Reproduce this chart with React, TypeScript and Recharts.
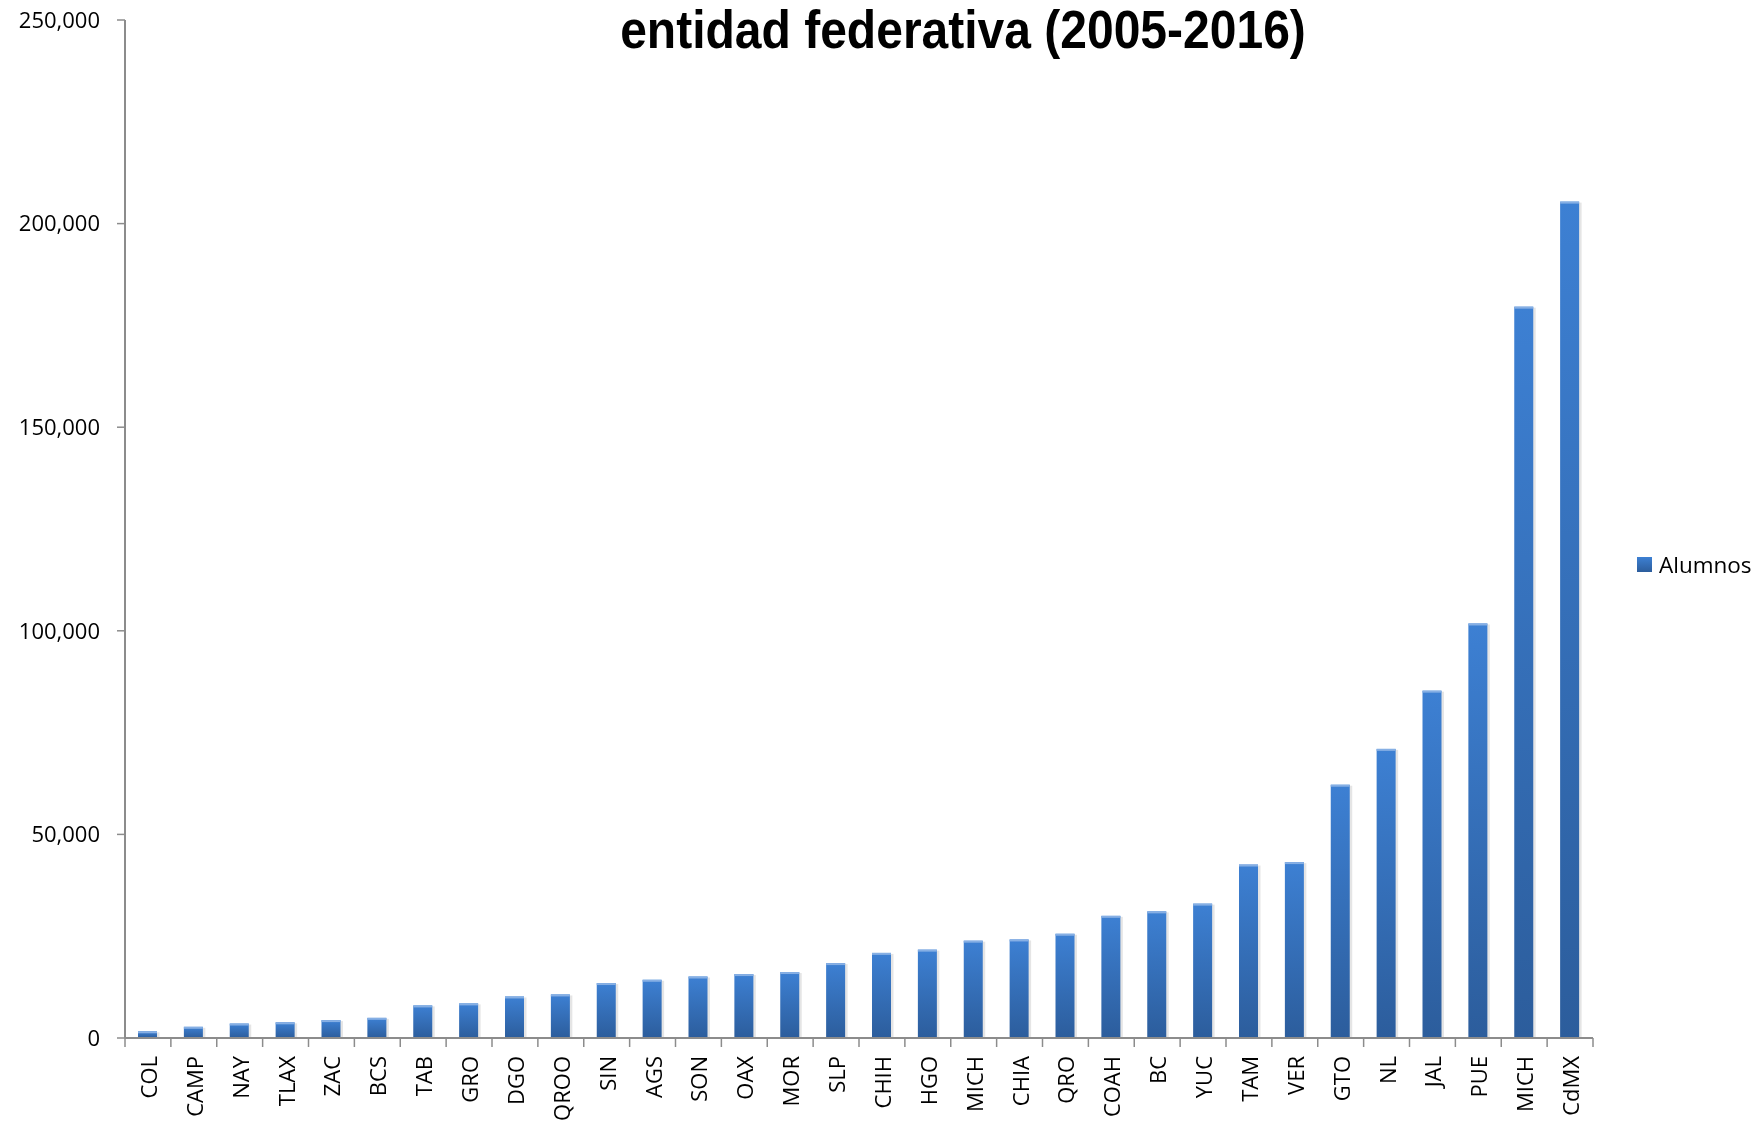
import { BarChart, Bar, XAxis, YAxis } from "recharts";

const categories = [
  "COL", "CAMP", "NAY", "TLAX", "ZAC", "BCS", "TAB", "GRO", "DGO", "QROO",
  "SIN", "AGS", "SON", "OAX", "MOR", "SLP", "CHIH", "HGO", "MICH", "CHIA",
  "QRO", "COAH", "BC", "YUC", "TAM", "VER", "GTO", "NL", "JAL", "PUE",
  "MICH", "CdMX",
];

const alumnos = [
  1650, 2750, 3550, 3850, 4400, 4950, 8000, 8500, 10200, 10700,
  13500, 14300, 15100, 15700, 16200, 18400, 20900, 21700, 23900, 24200,
  25600, 30000, 31100, 33000, 42600, 43200, 62200, 71000, 85300, 101800,
  179600, 205400,
];

const yTicks = [0, 50000, 100000, 150000, 200000, 250000];

const data = categories.map((estado, i) => ({ estado, alumnos: alumnos[i] }));

const W = 1756;
const H = 1123;
const PLOT_LEFT = 125;
const PLOT_RIGHT = 1593;
const BAND = (PLOT_RIGHT - PLOT_LEFT) / categories.length;
const FONT = '"Open Sans", "Noto Sans", sans-serif';
const AXIS_GRAY = "#8c8c8c";

const fmt = (v: number) => v.toLocaleString("en-US");

const BarShape = (props: any) => {
  const { x, y, width, height } = props;
  if (!height || height <= 0) return null;
  return (
    <g>
      <rect x={x + 1.5} y={y + 1} width={width + 1} height={height - 1} fill="rgba(0,0,0,0.10)" />
      <rect x={x} y={y} width={width} height={height} fill="url(#barGrad)" />
      <rect x={x} y={y} width={width} height={Math.min(2, height)} fill="#86afe4" />
    </g>
  );
};

const XTick = (props: any) => {
  const { x, y, payload, index } = props;
  const left = x - BAND / 2;
  const right = x + BAND / 2;
  return (
    <g>
      <line x1={left} y1={y} x2={left} y2={y + 9} stroke={AXIS_GRAY} strokeWidth={1.5} />
      {index === categories.length - 1 && (
        <line x1={right} y1={y} x2={right} y2={y + 9} stroke={AXIS_GRAY} strokeWidth={1.5} />
      )}
      <text
        x={x}
        y={y + 18}
        transform={`rotate(-90, ${x}, ${y + 18})`}
        textAnchor="end"
        dominantBaseline="central"
        fontFamily={FONT}
        fontSize={22}
        fill="#000"
      >
        {payload.value}
      </text>
    </g>
  );
};

export default function App() {
  return (
    <div style={{ position: "fixed", left: 0, top: 0, width: W, height: H, background: "#fff" }}>
      <div
        style={{
          position: "absolute",
          left: 0,
          width: 1926,
          top: 2,
          textAlign: "center",
          fontFamily: '"Liberation Sans", Arial, sans-serif',
          fontWeight: "bold",
          fontSize: 48,
          lineHeight: "60px",
          color: "#000",
          transform: "scaleY(1.1)",
          transformOrigin: "center 46px",
        }}
      >
        entidad federativa (2005-2016)
      </div>
      <BarChart
        width={W}
        height={H}
        data={data}
        margin={{ top: 20, right: W - PLOT_RIGHT, bottom: 0, left: 0 }}
      >
        <defs>
          <linearGradient id="barGrad" x1="0" y1="0" x2="0" y2="1">
            <stop offset="0%" stopColor="#3d80d3" />
            <stop offset="100%" stopColor="#2c5d9c" />
          </linearGradient>
        </defs>
        <XAxis
          dataKey="estado"
          interval={0}
          height={85}
          tickSize={0}
          tickMargin={0}
          tickLine={false}
          axisLine={{ stroke: AXIS_GRAY, strokeWidth: 2 }}
          tick={<XTick />}
        />
        <YAxis
          width={PLOT_LEFT}
          domain={[0, 250000]}
          ticks={yTicks}
          tickFormatter={fmt}
          tickSize={8}
          tickMargin={17}
          axisLine={{ stroke: AXIS_GRAY, strokeWidth: 2 }}
          tickLine={{ stroke: AXIS_GRAY, strokeWidth: 1.5 }}
          tick={{ fontFamily: FONT, fontSize: 22, fill: "#000" }}
        />
        <Bar dataKey="alumnos" barSize={19} shape={<BarShape />} isAnimationActive={false} />
      </BarChart>
      <div
        style={{
          position: "absolute",
          left: 1637,
          top: 549,
          display: "flex",
          alignItems: "center",
          fontFamily: FONT,
          fontSize: 22.5,
          color: "#000",
        }}
      >
        <span
          style={{
            display: "inline-block",
            width: 15,
            height: 15,
            background: "linear-gradient(#3d80d3, #2c5d9c)",
            marginRight: 7,
          }}
        />
        Alumnos
      </div>
    </div>
  );
}
